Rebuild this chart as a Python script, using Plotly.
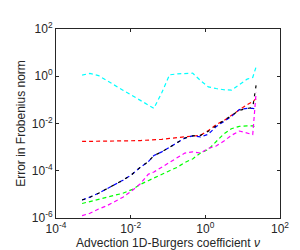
import plotly.graph_objects as go

nu = [5.0e-4, 8.1e-4, 1.38e-3, 2.24e-3, 3.8e-3, 6.2e-3, 1.07e-2, 1.82e-2, 2.95e-2,
      4.2e-2, 6.8e-2, 0.110, 0.178, 0.282, 0.457, 0.741, 1.20, 1.95, 3.09, 5.01,
      8.13, 13.2, 18.6, 22.9]

err_cyan = [1.12, 1.32, 1.07, 0.66, 0.40, 0.257, 0.155, 0.093, 0.059,
            0.044, 0.20, 1.15, 1.26, 1.32, 1.35, 0.66, 0.355, 0.302, 0.269, 0.257,
            0.457, 0.76, 0.89, 2.5]
err_red = [1.74e-3, 1.74e-3, 1.78e-3, 1.78e-3, 1.82e-3, 1.82e-3, 1.86e-3, 1.9e-3, 1.95e-3,
           2.0e-3, 2.14e-3, 2.34e-3, 2.51e-3, 2.82e-3, 3.0e-3, 3.16e-3, 5.0e-3, 8.9e-3,
           1.32e-2, 2.24e-2, 3.8e-2, 6.3e-2, 8.5e-2, 0.112]
err_black = [5.8e-6, 7.6e-6, 1.12e-5, 1.66e-5, 2.63e-5, 3.98e-5, 6.9e-5, 1.41e-4, 2.4e-4,
             4.4e-4, 6.3e-4, 1.0e-3, 1.58e-3, 2.4e-3, 3.0e-3, 3.16e-3, 4.7e-3, 8.3e-3,
             1.32e-2, 2.19e-2, 3.6e-2, 4.3e-2, 4.8e-2, 0.42]
err_blue = [5.8e-6, 7.6e-6, 1.12e-5, 1.66e-5, 2.63e-5, 3.98e-5, 6.9e-5, 1.41e-4, 2.4e-4,
            4.4e-4, 6.3e-4, 1.0e-3, 1.58e-3, 2.4e-3, 3.0e-3, 2.7e-3, 3.5e-3, 7.4e-3,
            1.2e-2, 2.0e-2, 3.9e-2, 4.4e-2, 4.4e-2, 4.0e-2]
err_green = [4.1e-6, 5.0e-6, 6.0e-6, 7.1e-6, 8.9e-6, 1.12e-5, 1.58e-5, 2.63e-5, 3.8e-5,
             5.0e-5, 7.1e-5, 1.0e-4, 1.41e-4, 2.24e-4, 3.16e-4, 5.6e-4, 7.9e-4, 1.78e-3,
             3.55e-3, 6.0e-3, 7.6e-3, 7.9e-3, 7.9e-3, 7.1e-3]
err_magenta = [1.26e-6, 1.58e-6, 2.4e-6, 3.24e-6, 5.0e-6, 7.6e-6, 1.41e-5, 2.82e-5, 7.1e-5,
               8.9e-5, 1.41e-4, 2.19e-4, 3.55e-4, 5.6e-4, 6.3e-4, 5.6e-4, 8.9e-4, 1.12e-3,
               1.78e-3, 3.16e-3, 4.8e-3, 4.0e-3, 3.4e-3, 0.20]

series = [
    (err_cyan, "#00FFFF", "4px,3px"),
    (err_red, "#FF0000", "4px,3px"),
    (err_blue, "#0000FF", "4px,3px"),
    (err_black, "#000000", "3px,5px"),
    (err_green, "#00FF00", "4px,3px"),
    (err_magenta, "#FF00FF", "4px,3px"),
]

xticks = [1e-4, 1e-2, 1e0, 1e2]
xticktext = ["10<sup>-4</sup>", "10<sup>-2</sup>", "10<sup>0</sup>", "10<sup>2</sup>"]
yticks = [1e-6, 1e-4, 1e-2, 1e0, 1e2]
yticktext = ["10<sup>-6</sup>", "10<sup>-4</sup>", "10<sup>-2</sup>", "10<sup>0</sup>", "10<sup>2</sup>"]

fig = go.Figure()
for vals, col, dash in series:
    fig.add_trace(go.Scatter(x=nu, y=vals, mode="lines",
                             line=dict(color=col, width=1.2, dash=dash),
                             showlegend=False))

axis_common = dict(type="log", showline=True, linecolor="#262626", linewidth=1,
                   mirror="ticks", ticks="inside", ticklen=3, tickcolor="#262626",
                   showgrid=False, zeroline=False,
                   tickfont=dict(family="Liberation Sans, Arial", size=12, color="#262626"))

fig.update_layout(
    width=300, height=250,
    margin=dict(l=41, r=28, t=19, b=34),
    paper_bgcolor="white", plot_bgcolor="white",
    font=dict(family="Liberation Sans, Arial", size=12, color="#262626"),
    xaxis=dict(range=[-4, 2], tickvals=xticks, ticktext=xticktext,
               title=dict(text="Advection 1D-Burgers coefficient <i>ν</i>", standoff=1,
                          font=dict(size=12)),
               **axis_common),
    yaxis=dict(range=[-6, 2], tickvals=yticks, ticktext=yticktext,
               title=dict(text="Error in Frobenius norm", standoff=3, font=dict(size=12)),
               **axis_common),
)

fig.write_html("out.html")
